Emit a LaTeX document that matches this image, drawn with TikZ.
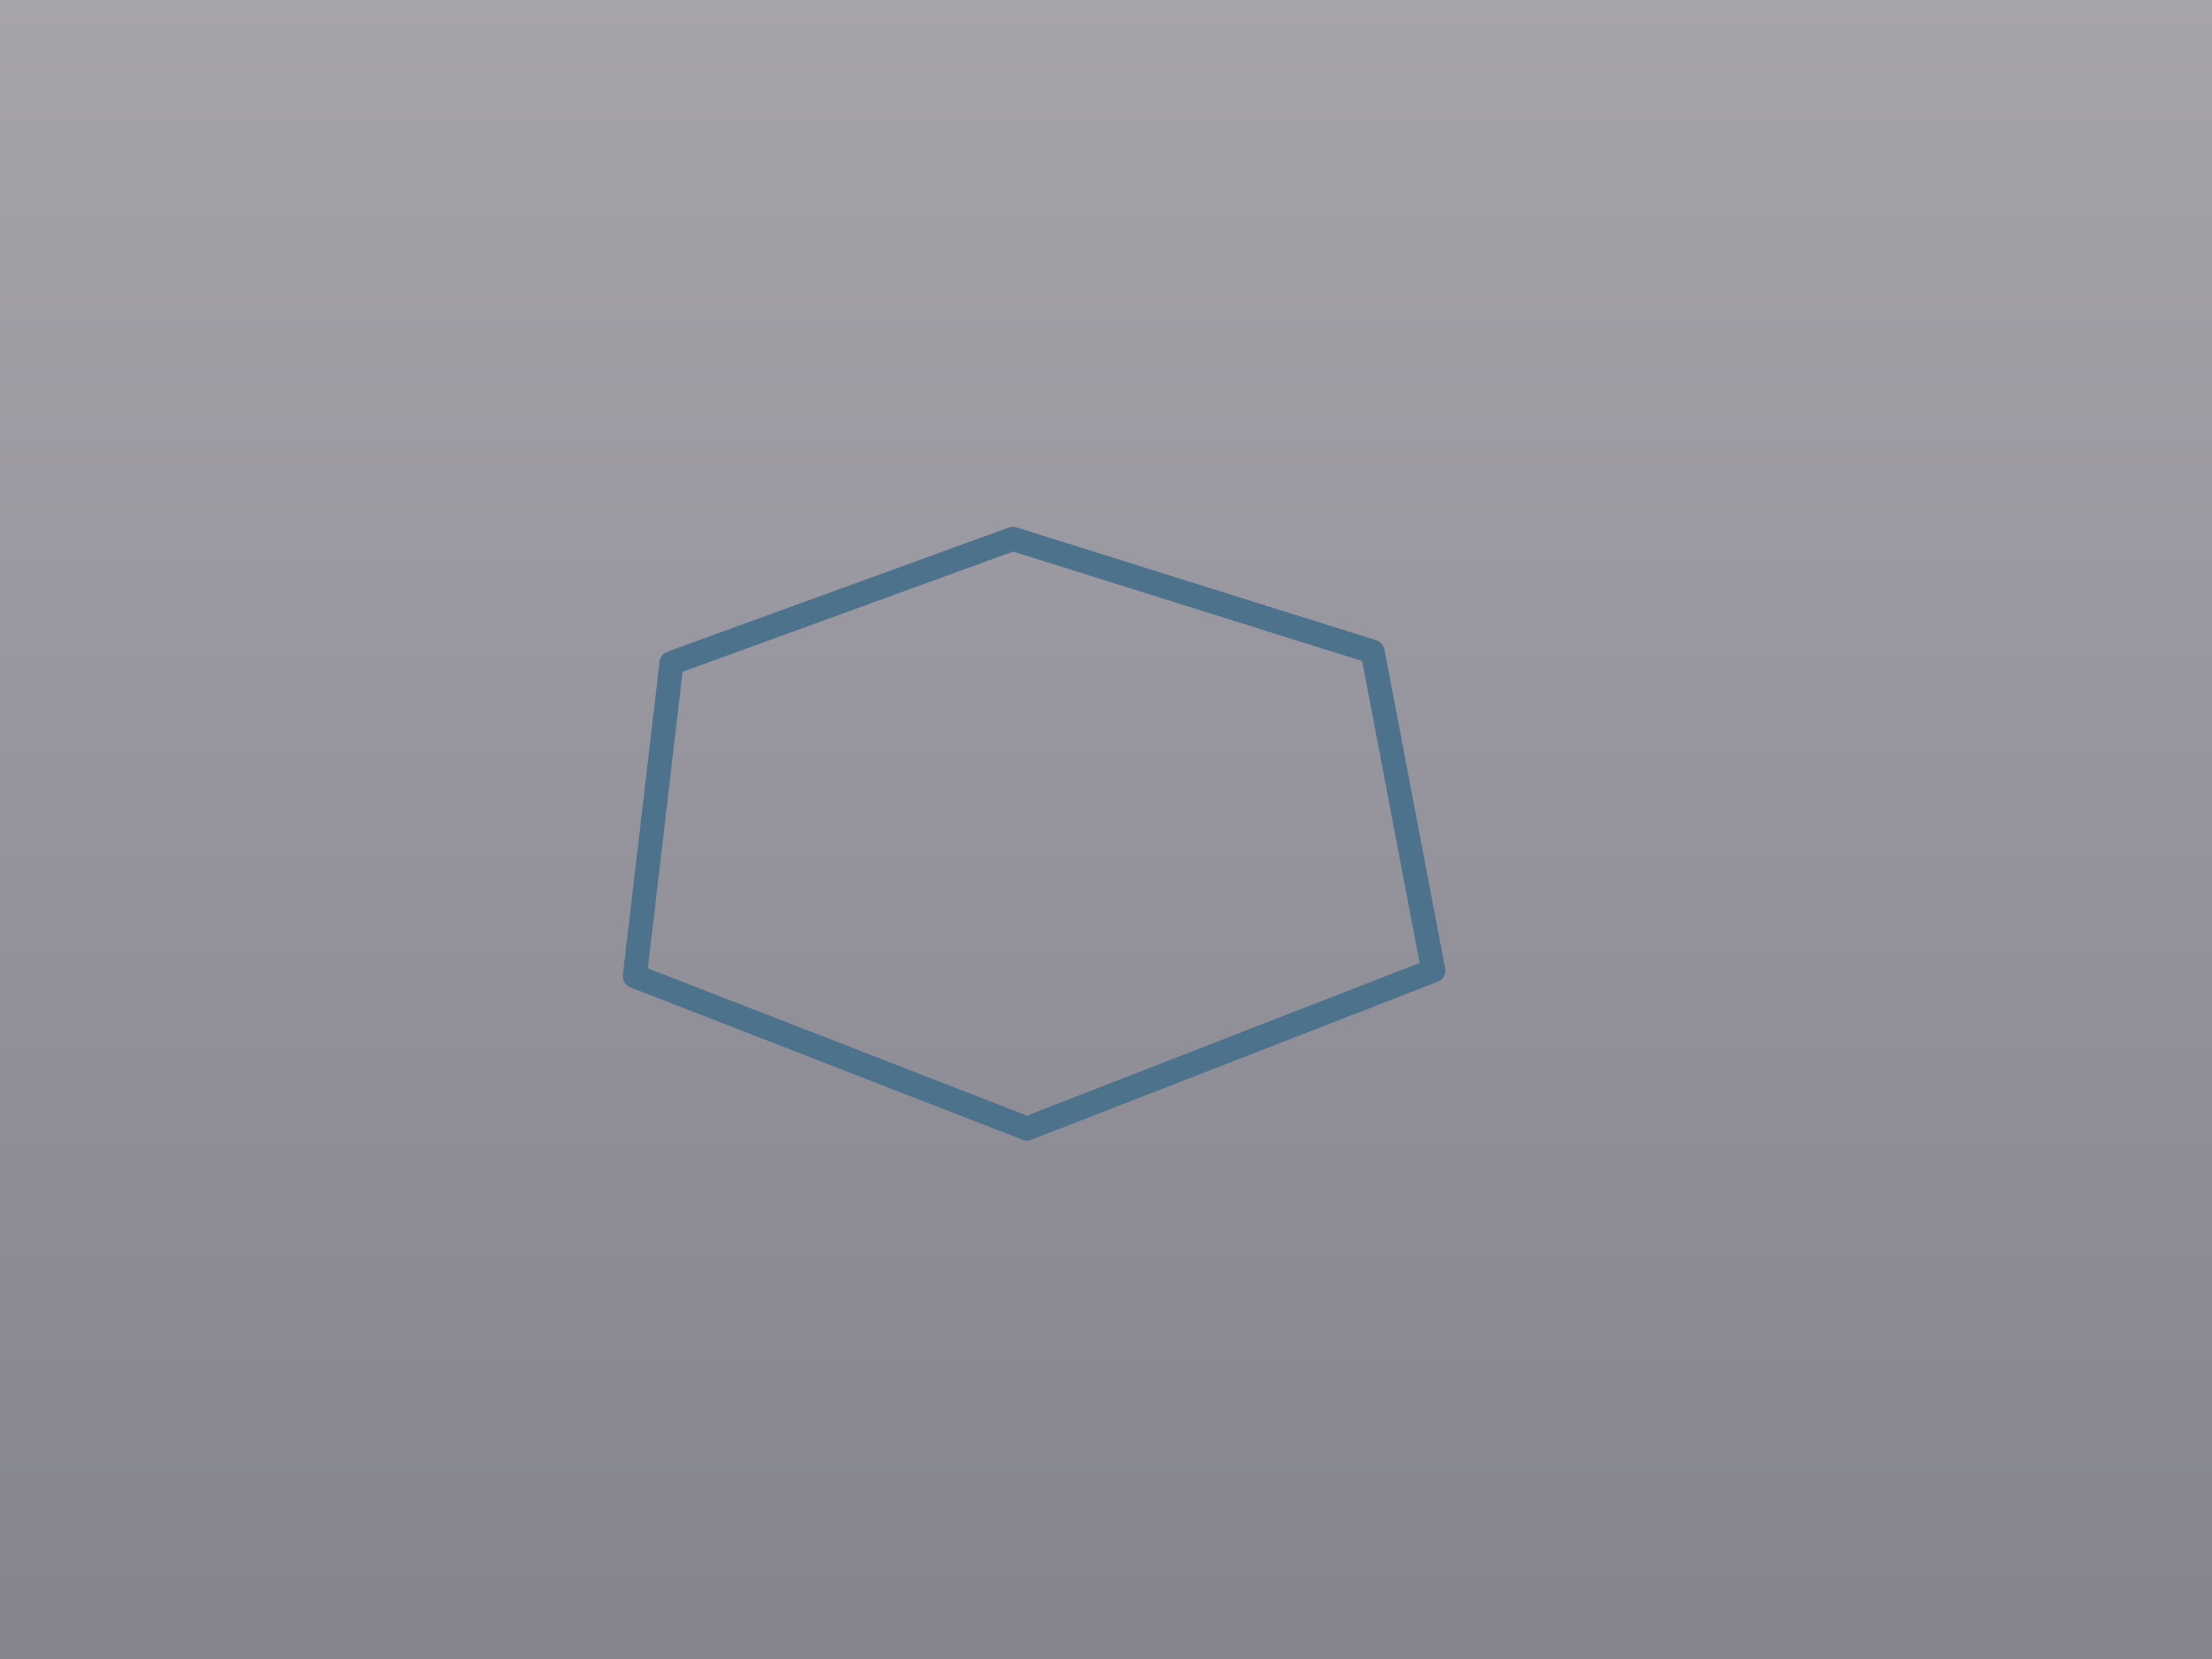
\documentclass[tikz,border=0pt]{standalone}
\usepackage{tikz}
\usetikzlibrary{calc}
\definecolor{paper top}{RGB}{166,163,170}
\definecolor{paper bottom}{RGB}{132,132,142}
\definecolor{pen blue}{RGB}{76,114,140}
\tikzstyle{pen line} = [pen blue, line width=.17cm, line join=round, line cap=round]

\begin{document}
\begin{tikzpicture}
        \shade[top color=paper top, bottom color=paper bottom] (0,0) rectangle (15.68,11.76);
        \useasboundingbox (0,0) rectangle (15.68,11.76);

        \coordinate (c1) at (7.18,7.94);
        \coordinate (c2) at (9.73,7.14);
        \coordinate (c3) at (10.16,4.88);
        \coordinate (c4) at (7.28,3.76);
        \coordinate (c5) at (4.50,4.84);
        \coordinate (c6) at (4.76,7.06);

        \draw[pen line] (c1) to (c2) to (c3) to (c4) to (c5) to (c6) -- cycle;
\end{tikzpicture}
\end{document}
